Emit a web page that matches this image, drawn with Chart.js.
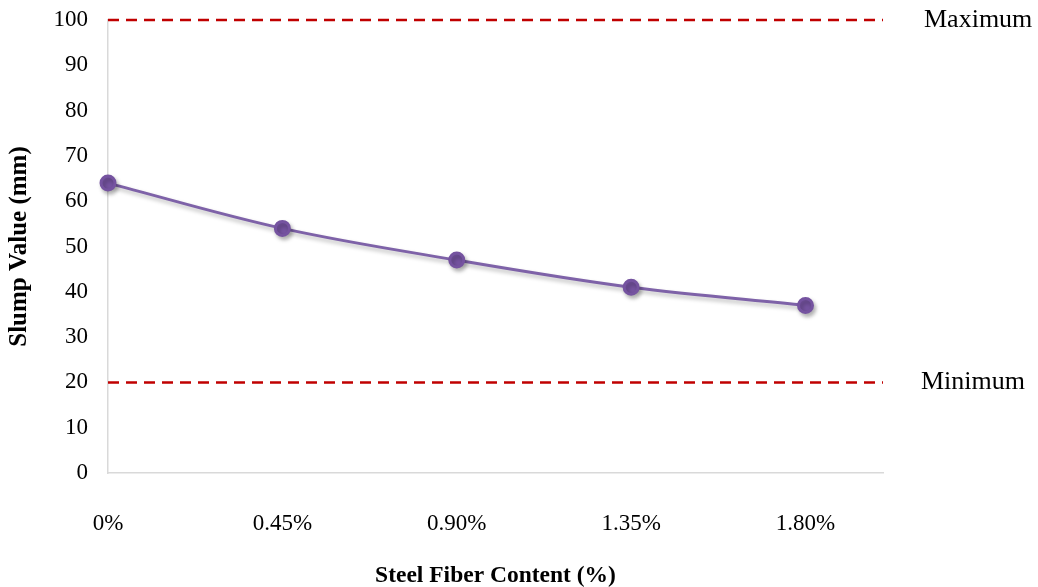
<!DOCTYPE html>
<html>
<head>
<meta charset="utf-8">
<script src="https://cdn.jsdelivr.net/npm/chart.js@4/dist/chart.umd.min.js"></script>
<style>
  html, body { margin: 0; padding: 0; background: #fff; }
  #wrap { width: 1038px; height: 587px; position: relative; }
</style>
</head>
<body>
<div id="wrap"><canvas id="c" width="1038" height="587"></canvas></div>
<script>
// ---- data ----
const categories = ['0%', '0.45%', '0.90%', '1.35%', '1.80%'];
const fiberContent = [0, 0.45, 0.90, 1.35, 1.80];
const slumpValues = [64, 54, 47, 41, 37];
const limitX = [0, 2.0];
const maxLimit = [100, 100];
const minLimit = [20, 20];
const limitLabels = ['Maximum', 'Minimum'];
const yTicks = [0, 10, 20, 30, 40, 50, 60, 70, 80, 90, 100];

const serif = "'Liberation Serif', 'Times New Roman', serif";

const shadowPlugin = {
  id: 'shadow',
  beforeDatasetDraw(chart, args) {
    if (args.index === 0) {
      const ctx = chart.ctx;
      ctx.save();
      ctx.shadowColor = 'rgba(0,0,0,0.28)';
      ctx.shadowBlur = 4;
      ctx.shadowOffsetX = 2;
      ctx.shadowOffsetY = 3;
    }
  },
  afterDatasetDraw(chart, args) {
    if (args.index === 0) chart.ctx.restore();
  }
};

const limitLabelPlugin = {
  id: 'limitLabels',
  afterDraw(chart) {
    const ctx = chart.ctx;
    const y = chart.scales.y;
    const area = chart.chartArea;
    ctx.save();
    ctx.font = '26px ' + serif;
    ctx.fillStyle = '#000';
    ctx.textBaseline = 'middle';
    ctx.textAlign = 'left';
    ctx.fillText(limitLabels[0], area.right + 41, y.getPixelForValue(maxLimit[0]));
    ctx.fillText(limitLabels[1], area.right + 38, y.getPixelForValue(minLimit[0]));
    ctx.restore();
  }
};

new Chart(document.getElementById('c'), {
  type: 'line',
  data: {
    datasets: [
      {
        label: 'Slump',
        data: fiberContent.map((x, i) => ({ x: x, y: slumpValues[i] })),
        borderColor: '#7e62a8',
        backgroundColor: '#7553a0',
        pointBackgroundColor: '#7553a0',
        pointBorderColor: '#7553a0',
        borderWidth: 3,
        pointRadius: 7,
        tension: 0.35,
        clip: false,
        order: 0
      },
      {
        label: 'Maximum',
        data: limitX.map((x, i) => ({ x: x, y: maxLimit[i] })),
        borderColor: '#c00000',
        borderWidth: 2.5,
        borderDash: [11, 7],
        pointRadius: 0,
        clip: false,
        order: 1
      },
      {
        label: 'Minimum',
        data: limitX.map((x, i) => ({ x: x, y: minLimit[i] })),
        borderColor: '#c00000',
        borderWidth: 2.5,
        borderDash: [11, 7],
        pointRadius: 0,
        clip: false,
        order: 1
      }
    ]
  },
  options: {
    responsive: false,
    animation: false,
    layout: { padding: { left: 0, right: 155, top: 20, bottom: 0 } },
    plugins: {
      legend: { display: false },
      tooltip: { enabled: false }
    },
    scales: {
      x: {
        type: 'linear',
        min: limitX[0],
        max: limitX[1],
        grid: { display: false, drawTicks: false },
        border: { display: true, color: '#d9d9d9', width: 1.5 },
        afterBuildTicks(scale) {
          scale.ticks = fiberContent.map(v => ({ value: v }));
        },
        afterFit(scale) { scale.height = 114; },
        ticks: {
          autoSkip: false,
          maxRotation: 0,
          padding: 37,
          color: '#000',
          font: { family: serif, size: 23 },
          callback: (v, i) => categories[i]
        },
        title: {
          display: true,
          text: 'Steel Fiber Content (%)',
          color: '#000',
          font: { family: serif, size: 23.5, weight: 'bold' },
          padding: { top: 0, bottom: -3 }
        }
      },
      y: {
        min: 0,
        max: 100,
        grid: { display: false, drawTicks: false },
        border: { display: true, color: '#d9d9d9', width: 1.5 },
        afterBuildTicks(scale) {
          scale.ticks = yTicks.map(v => ({ value: v }));
        },
        afterFit(scale) {
          scale.width = 108;
          scale.paddingTop = 0;
          scale.paddingBottom = 0;
        },
        ticks: {
          padding: 20,
          color: '#000',
          font: { family: serif, size: 23 }
        },
        title: {
          display: true,
          text: 'Slump Value (mm)',
          color: '#000',
          font: { family: serif, size: 25, weight: 'bold' },
          padding: { top: 5, bottom: 0 }
        }
      }
    }
  },
  plugins: [shadowPlugin, limitLabelPlugin]
});
</script>
</body>
</html>
